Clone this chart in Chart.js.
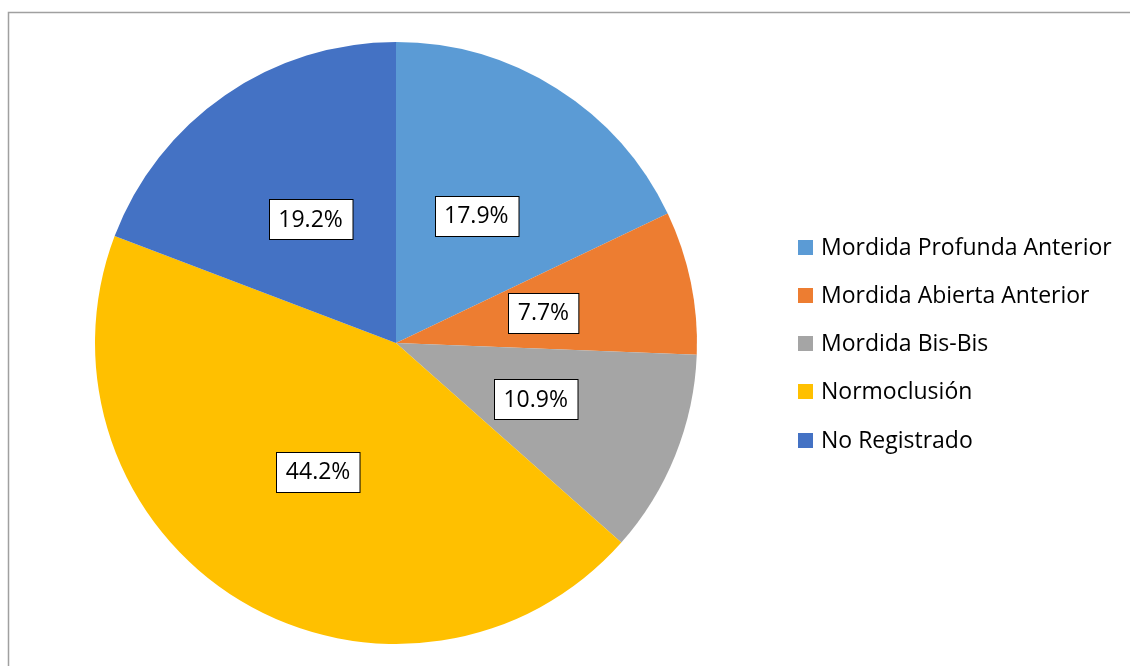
<!DOCTYPE html>
<html>
<head>
<meta charset="utf-8">
<script src="https://cdn.jsdelivr.net/npm/chart.js@4/dist/chart.umd.min.js"></script>
<style>
  html, body { margin: 0; padding: 0; background: #ffffff; }
  #wrap { position: relative; width: 1130px; height: 666px; }
</style>
</head>
<body>
<div id="wrap"><canvas id="pie" width="1130" height="666"></canvas></div>
<script>
// Distribución de tipos de mordida (%)
const categories = [
  'Mordida Profunda Anterior',
  'Mordida Abierta Anterior',
  'Mordida Bis-Bis',
  'Normoclusión',
  'No Registrado'
];
const percentages = [17.9, 7.7, 10.9, 44.2, 19.2];
const sliceColors = ['#5B9BD5', '#ED7D31', '#A5A5A5', '#FFC000', '#4472C4'];

const FONT = "'Open Sans', 'Liberation Sans', sans-serif";

// Frame around the chart object
const framePlugin = {
  id: 'frame',
  beforeDraw(chart) {
    const ctx = chart.ctx;
    ctx.save();
    ctx.fillStyle = '#ffffff';
    ctx.fillRect(0, 0, chart.width, chart.height);
    ctx.strokeStyle = '#a0a0a0';
    ctx.lineWidth = 1.5;
    ctx.strokeRect(8.5, 12.5, chart.width + 10, chart.height + 10);
    ctx.restore();
  }
};

// Boxed percentage labels at the middle of each slice
const boxLabelPlugin = {
  id: 'boxLabels',
  afterDatasetsDraw(chart) {
    const ctx = chart.ctx;
    const meta = chart.getDatasetMeta(0);
    const values = chart.data.datasets[0].data;
    ctx.save();
    ctx.font = '23px ' + FONT;
    ctx.textAlign = 'center';
    ctx.textBaseline = 'middle';
    meta.data.forEach((arc, i) => {
      const p = arc.tooltipPosition();
      const text = values[i].toFixed(1) + '%';
      const w = ctx.measureText(text).width + 19;
      const h = 40;
      const x = Math.round(p.x - w / 2) + 0.5;
      const y = Math.round(p.y - h / 2) + 0.5;
      ctx.fillStyle = '#ffffff';
      ctx.fillRect(x, y, w, h);
      ctx.strokeStyle = '#000000';
      ctx.lineWidth = 1;
      ctx.strokeRect(x, y, w, h);
      ctx.fillStyle = '#000000';
      ctx.fillText(text, p.x, p.y + 1);
    });
    ctx.restore();
  }
};

// Legend on the right side
const sideLegendPlugin = {
  id: 'sideLegend',
  afterDraw(chart) {
    const ctx = chart.ctx;
    const labels = chart.data.labels;
    const colors = chart.data.datasets[0].backgroundColor;
    const x0 = 798, y0 = 247, step = 48.3, box = 15;
    ctx.save();
    ctx.font = '23px ' + FONT;
    ctx.textBaseline = 'middle';
    ctx.textAlign = 'left';
    labels.forEach((lab, i) => {
      const cy = y0 + i * step;
      ctx.fillStyle = colors[i];
      ctx.fillRect(x0, Math.round(cy - box / 2), box, box);
      ctx.fillStyle = '#000000';
      ctx.fillText(lab, x0 + 23, cy + 1);
    });
    ctx.restore();
  }
};

new Chart(document.getElementById('pie'), {
  type: 'pie',
  data: {
    labels: categories,
    datasets: [{
      data: percentages,
      backgroundColor: sliceColors,
      borderWidth: 0,
      hoverOffset: 0
    }]
  },
  options: {
    responsive: false,
    animation: false,
    events: [],
    rotation: 0,
    layout: { padding: { left: 95, top: 42, right: 433, bottom: 22 } },
    plugins: {
      legend: { display: false },
      tooltip: { enabled: false }
    }
  },
  plugins: [framePlugin, boxLabelPlugin, sideLegendPlugin]
});
</script>
</body>
</html>
